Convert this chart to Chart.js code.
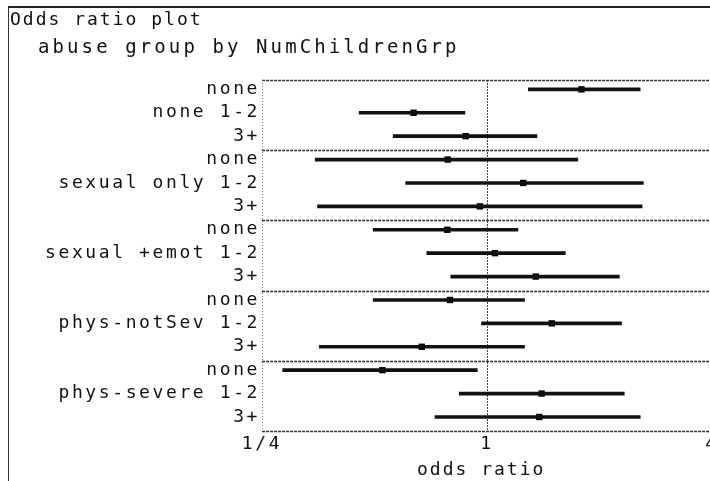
<!DOCTYPE html>
<html>
<head>
<meta charset="utf-8">
<title>Odds ratio plot</title>
<script src="https://cdn.jsdelivr.net/npm/chart.js@4.4.1/dist/chart.umd.min.js"></script>
<style>
    html, body { margin: 0; padding: 0; background: #fff; overflow: hidden; }
    #frame { position: relative; width: 710px; height: 481px; overflow: hidden; }
    #frame-lines {
        position: absolute; left: 8px; top: 6px; width: 720px; height: 480px;
        border-top: 2px solid #222; border-left: 1px solid #333;
    }
    canvas { position: absolute; left: 0; top: 0; }
    .label {
        position: absolute; font-family: "DejaVu Sans Mono", monospace;
        color: #111; white-space: nowrap;
    }
    #title { left: 10px; top: 10px; font-size: 18px; line-height: 18px; letter-spacing: 2px; }
    #subtitle { left: 38px; top: 37px; font-size: 19px; line-height: 19px; letter-spacing: 3.1px; }
    #x-title { left: 417px; top: 460px; font-size: 18px; line-height: 18px; letter-spacing: 2px; }
</style>
</head>
<body>
<div id="frame">
    <div id="frame-lines"></div>
    <canvas id="or-chart" width="760" height="481"></canvas>
    <div class="label" id="title">Odds ratio plot</div>
    <div class="label" id="subtitle">abuse group by NumChildrenGrp</div>
    <div class="label" id="x-title">odds ratio</div>
</div>
<script>
(function () {
    const groups = ["none", "sexual only", "sexual +emot", "phys-notSev", "phys-severe"];
    const childLevels = ["none", "1-2", "3+"];

    // one value per row: group x child level, top to bottom
    const oddsRatio = [1.79, 0.636, 0.877, 0.785, 1.25, 0.957, 0.783, 1.05, 1.35, 0.796, 1.49, 0.669, 0.525, 1.40, 1.38];
    const ciLower = [1.29, 0.455, 0.561, 0.347, 0.606, 0.352, 0.496, 0.69, 0.80, 0.496, 0.967, 0.356, 0.284, 0.843, 0.726];
    const ciUpper = [2.57, 0.873, 1.36, 1.75, 2.62, 2.60, 1.21, 1.62, 2.26, 1.26, 2.29, 1.26, 0.942, 2.33, 2.57];

    const xTickValues = [0.25, 1, 4];
    const xTickLabels = ["1/4", "1", "4"];
    const referenceValue = 1;

    const rowShift = 0.4;
    const rowCount = oddsRatio.length;

    function rowLabel(index) {
        const group = Math.floor(index / childLevels.length);
        const level = index % childLevels.length;
        if (level === 1) {
            return groups[group] + " " + childLevels[level];
        }
        return childLevels[level];
    }

    function strokeLine(ctx, x1, y1, x2, y2) {
        ctx.beginPath();
        ctx.moveTo(x1, y1);
        ctx.lineTo(x2, y2);
        ctx.stroke();
    }

    const frameLines = {
        id: "frameLines",
        beforeDatasetsDraw: function (chart) {
            const ctx = chart.ctx;
            const area = chart.chartArea;
            const xScale = chart.scales.x;
            const yScale = chart.scales.y;

            ctx.save();
            ctx.strokeStyle = "#333";
            ctx.lineWidth = 1.5;
            ctx.setLineDash([3, 1]);
            const edges = [yScale.min];
            for (let g = 1; g < groups.length; g++) {
                edges.push(g * childLevels.length - rowShift);
            }
            edges.push(yScale.max);
            edges.forEach(function (value) {
                const py = Math.round(yScale.getPixelForValue(value)) + 0.5;
                strokeLine(ctx, area.left, py, area.right, py);
            });

            ctx.strokeStyle = "#777";
            ctx.lineWidth = 1;
            ctx.setLineDash([1, 2]);
            strokeLine(ctx, area.left + 0.5, area.top, area.left + 0.5, area.bottom);

            ctx.strokeStyle = "#444";
            ctx.setLineDash([2, 1]);
            const px = Math.round(xScale.getPixelForValue(referenceValue)) + 0.5;
            strokeLine(ctx, px, area.top, px, area.bottom);
            ctx.restore();
        }
    };

    // wide, evenly spaced lettering like the original terminal font
    const textSpacing = {
        id: "textSpacing",
        beforeDraw: function (chart) {
            chart.ctx.letterSpacing = "2.6px";
        },
        afterDatasetsDraw: function (chart) {
            chart.ctx.letterSpacing = "0.5px";
        }
    };

    const labelFont = { family: "'DejaVu Sans Mono', monospace", size: 18 };

    new Chart(document.getElementById("or-chart").getContext("2d"), {
        type: "bar",
        data: {
            datasets: [
                {
                    type: "bar",
                    label: "95% CI",
                    data: oddsRatio.map(function (value, i) {
                        return { x: [ciLower[i], ciUpper[i]], y: i };
                    }),
                    backgroundColor: "#111",
                    barThickness: 3,
                    borderWidth: 0
                },
                {
                    type: "scatter",
                    label: "Odds ratio",
                    data: oddsRatio.map(function (value, i) {
                        return { x: value, y: i };
                    }),
                    pointStyle: "rect",
                    pointRadius: 4.5,
                    backgroundColor: "#000",
                    borderColor: "#000",
                    borderWidth: 0
                }
            ]
        },
        options: {
            indexAxis: "y",
            responsive: false,
            animation: false,
            layout: {
                padding: { top: 80, left: 0, right: 48, bottom: 0 }
            },
            plugins: {
                legend: { display: false },
                tooltip: { enabled: false },
                title: { display: false }
            },
            scales: {
                x: {
                    type: "logarithmic",
                    min: 0.25,
                    max: 4,
                    z: 1,
                    grid: { display: false, drawTicks: false },
                    border: { display: false },
                    afterBuildTicks: function (scale) {
                        scale.ticks = xTickValues.map(function (v) {
                            return { value: v };
                        });
                    },
                    afterFit: function (scale) {
                        scale.height = 50;
                    },
                    ticks: {
                        autoSkip: false,
                        maxRotation: 0,
                        padding: 3,
                        color: "#111",
                        font: labelFont,
                        callback: function (value) {
                            const idx = xTickValues.indexOf(value);
                            return idx >= 0 ? xTickLabels[idx] : "";
                        }
                    }
                },
                y: {
                    type: "linear",
                    min: -rowShift,
                    max: rowCount - rowShift,
                    reverse: true,
                    offset: false,
                    grid: { display: false, drawTicks: false },
                    border: { display: false },
                    afterBuildTicks: function (scale) {
                        scale.ticks = oddsRatio.map(function (v, i) {
                            return { value: i };
                        });
                    },
                    afterFit: function (scale) {
                        scale.width = 262;
                    },
                    ticks: {
                        autoSkip: false,
                        padding: 2,
                        color: "#111",
                        font: labelFont,
                        callback: function (value) {
                            return rowLabel(value);
                        }
                    }
                }
            }
        },
        plugins: [frameLines, textSpacing]
    });
})();
</script>
</body>
</html>
